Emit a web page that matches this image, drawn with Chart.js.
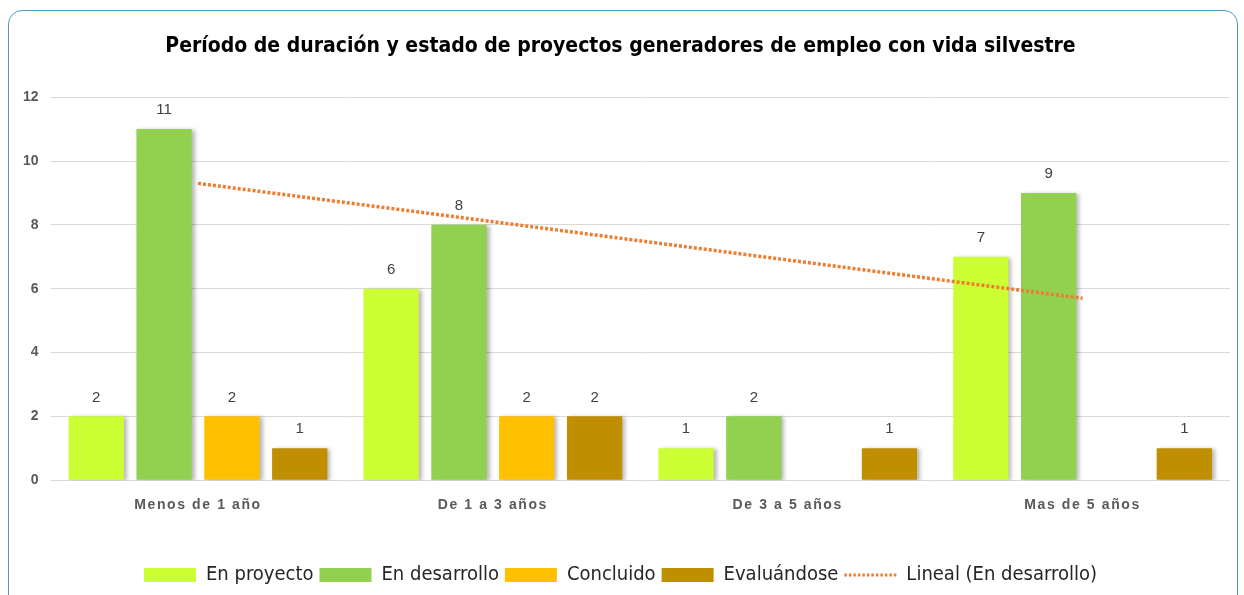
<!DOCTYPE html>
<html>
<head>
<meta charset="utf-8">
<script src="https://cdn.jsdelivr.net/npm/chart.js@4.4.1/dist/chart.umd.min.js"></script>
<style>
  html, body { margin: 0; padding: 0; background: #fff; }
  #wrap { position: relative; width: 1244px; height: 595px; overflow: hidden; }
  #marco {
    position: absolute; left: 8px; top: 10px; width: 1230px; height: 620px;
    border: 1.5px solid #4b9cc8; border-radius: 14px; box-sizing: border-box;
  }
  canvas { position: absolute; left: 0; top: 0; }
</style>
</head>
<body>
<div id="wrap">
  <div id="marco"></div>
  <canvas id="grafico" width="1244" height="595"></canvas>
</div>
<script>
// ----------------------------------------------------------------
// Datos
// ----------------------------------------------------------------
const categorias   = ['Menos de 1 año', 'De 1 a 3 años', 'De 3 a 5 años', 'Mas de 5 años'];
const enProyecto   = [2, 6, 1, 7];
const enDesarrollo = [11, 8, 2, 9];
const concluido    = [2, 2, null, null];
const evaluandose  = [1, 2, 1, 1];
// tendencia lineal (en el centro de cada categoría)
const tendencia    = [9.3, 8.1, 6.9, 5.7];
const ticksY       = [0, 2, 4, 6, 8, 10, 12];

const TITULO  = 'Período de duración y estado de proyectos generadores de empleo con vida silvestre';
const NARROW  = '"Liberation Sans Narrow", "Arial Narrow", "DejaVu Sans Condensed", sans-serif';
const ARIAL   = '"Liberation Sans", Arial, sans-serif';
const GRIS    = '#595959';
const NARANJA = '#ed7d31';

// sombra suave de las barras
const sombraBarras = {
  id: 'sombraBarras',
  beforeDatasetDraw(chart, args) {
    if (args.meta.type !== 'bar') return;
    const ctx = chart.ctx;
    ctx.save();
    ctx.shadowColor = 'rgba(0,0,0,0.28)';
    ctx.shadowBlur = 4;
    ctx.shadowOffsetX = 3;
    ctx.shadowOffsetY = 1;
  },
  afterDatasetDraw(chart, args) {
    if (args.meta.type !== 'bar') return;
    chart.ctx.restore();
  },
};

// etiquetas de valor sobre las barras + etiquetas del eje x con espaciado
const etiquetas = {
  id: 'etiquetas',
  afterDatasetsDraw(chart) {
    const ctx = chart.ctx;
    ctx.save();
    ctx.font = '15px ' + ARIAL;
    ctx.fillStyle = '#404040';
    ctx.textAlign = 'center';
    ctx.textBaseline = 'middle';
    chart.data.datasets.forEach((ds, i) => {
      if (ds.type === 'line') return;
      const meta = chart.getDatasetMeta(i);
      meta.data.forEach((bar, j) => {
        const v = ds.data[j];
        if (v === null || v === 0) return;
        ctx.fillText(String(v), bar.x, bar.y - 19);
      });
    });
    ctx.restore();
  },
  afterDraw(chart) {
    const ctx = chart.ctx;
    const x = chart.scales.x;
    ctx.save();
    ctx.font = 'bold 14px ' + ARIAL;
    ctx.fillStyle = GRIS;
    ctx.textAlign = 'center';
    ctx.textBaseline = 'middle';
    ctx.letterSpacing = '1.6px';
    categorias.forEach((c, i) => {
      ctx.fillText(c, x.getPixelForValue(i), chart.chartArea.bottom + 25);
    });
    ctx.restore();
  },
};

function leyenda(chart) {
  const items = Chart.defaults.plugins.legend.labels.generateLabels(chart);
  items.forEach(it => {
    if (chart.data.datasets[it.datasetIndex].type === 'line') {
      it.strokeStyle = NARANJA;
      it.lineWidth = 3;
      it.lineDash = [2.5, 2];
      it.lineCap = 'butt';
    }
  });
  return items.sort((a, b) => a.datasetIndex - b.datasetIndex);
}

new Chart(document.getElementById('grafico'), {
  data: {
    labels: categorias,
    datasets: [
      { type: 'bar', label: 'En proyecto',   data: enProyecto,   backgroundColor: '#ccff33', pointStyle: 'rect', order: 2 },
      { type: 'bar', label: 'En desarrollo', data: enDesarrollo, backgroundColor: '#92d050', pointStyle: 'rect', order: 2 },
      { type: 'bar', label: 'Concluido',     data: concluido,    backgroundColor: '#ffc000', pointStyle: 'rect', order: 2 },
      { type: 'bar', label: 'Evaluándose',   data: evaluandose,  backgroundColor: '#bf8f00', pointStyle: 'rect', order: 2 },
      {
        type: 'line', label: 'Lineal (En desarrollo)', data: tendencia,
        borderColor: NARANJA, borderWidth: 3.5, borderDash: [3, 2], borderCapStyle: 'butt',
        pointRadius: 0, pointStyle: 'line', fill: false, tension: 0, order: 1,
      },
    ],
  },
  options: {
    responsive: false,
    animation: false,
    layout: { padding: { left: 11, right: 14, top: 34, bottom: 0 } },
    datasets: {
      bar: { categoryPercentage: 0.92, barPercentage: 0.815 },
    },
    plugins: {
      title: {
        display: true,
        text: TITULO,
        color: '#000',
        font: { family: NARROW, size: 21, weight: 'bold' },
        padding: { top: 0, bottom: 38 },
      },
      legend: {
        position: 'bottom',
        labels: {
          usePointStyle: true,
          pointStyleWidth: 52,
          boxHeight: 14,
          color: '#262626',
          padding: 6,
          font: { family: NARROW, size: 20 },
          generateLabels: leyenda,
        },
      },
      tooltip: { enabled: false },
    },
    scales: {
      x: {
        grid: { display: false },
        border: { display: false },
        ticks: { color: 'transparent', font: { size: 14, weight: 'bold' }, padding: 27 },
      },
      y: {
        min: 0,
        max: 12,
        afterBuildTicks: (ax) => { ax.ticks = ticksY.map(v => ({ value: v })); },
        grid: { color: '#d9d9d9', lineWidth: 1, drawTicks: false },
        border: { display: false },
        ticks: { color: GRIS, font: { family: ARIAL, size: 14, weight: 'bold' }, padding: 12 },
      },
    },
  },
  plugins: [sombraBarras, etiquetas],
});
</script>
</body>
</html>
